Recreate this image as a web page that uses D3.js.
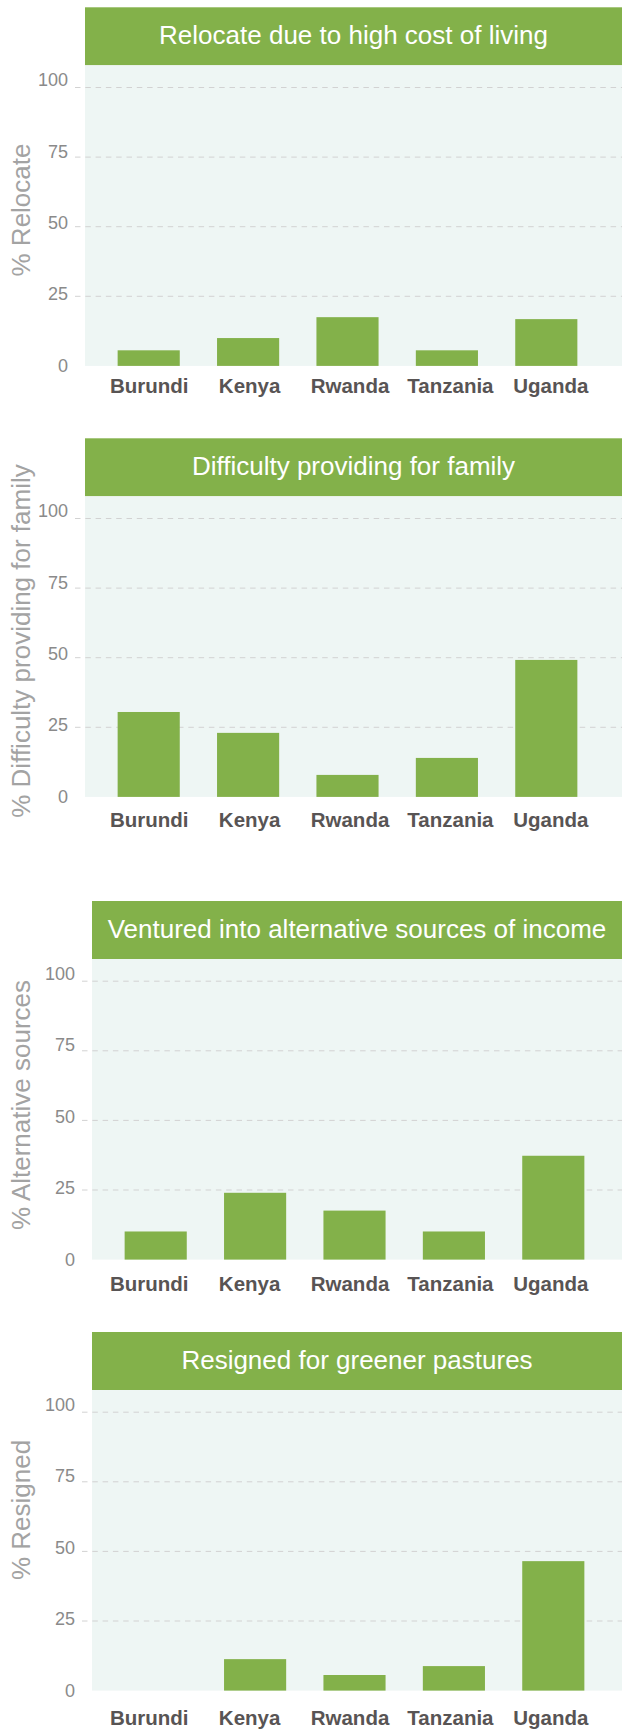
<!DOCTYPE html>
<html>
<head>
<meta charset="utf-8">
<script src="https://cdn.jsdelivr.net/npm/d3@7"></script>
<style>
  html, body { margin: 0; padding: 0; background: #ffffff; }
  svg { display: block; }
  text { font-family: "Helvetica Neue", Helvetica, "Liberation Sans", Arial, sans-serif; }
</style>
</head>
<body>
<div id="chart"></div>
<script>
// Countries shared by every panel
const categories = ["Burundi", "Kenya", "Rwanda", "Tanzania", "Uganda"];

// Panel headings and y-axis titles
const panelTitles = [
  "Relocate due to high cost of living",
  "Difficulty providing for family",
  "Ventured into alternative sources of income",
  "Resigned for greener pastures"
];
const axisTitles = [
  "% Relocate",
  "% Difficulty providing for family",
  "% Alternative sources",
  "% Resigned"
];

// Share of respondents (%) per country
const relocate    = [5.6, 10.0, 17.5, 5.6, 16.8];
const difficulty  = [30.5, 23.0, 7.9, 14.0, 49.2];
const alternative = [10.1, 24.0, 17.6, 10.1, 37.3];
const resigned    = [0, 11.3, 5.6, 8.8, 46.5];

const seriesList = [relocate, difficulty, alternative, resigned];
const yTicks = [0, 25, 50, 75, 100];

// Layout of each panel: vertical offset, horizontal nudge, label offsets
const layout = [
  { top: 7.3,  dx: 0, catDy: 27.5, titleY: 202.7 },
  { top: 438.3, dx: 0, catDy: 30,   titleY: 202.7 },
  { top: 901,  dx: 7, catDy: 31.5, titleY: 204 },
  { top: 1332, dx: 7, catDy: 34,   titleY: 178 }
];

const W = 622, H = 1729;
const GREEN = "#83b14a";
const PLOT_BG = "#eef6f4";
const headerH = 58;

const svg = d3.select("#chart").append("svg")
  .attr("width", W).attr("height", H);

const y = d3.scaleLinear().domain([0, 100]).range([358.6, 80.2]);
const yLabel = d3.scaleLinear().domain([0, 100]).range([364, 78.5]);

seriesList.forEach((values, i) => {
  const L = layout[i];
  const g = svg.append("g").attr("transform", `translate(0,${L.top})`);
  const left = 85 + L.dx;

  const x = d3.scaleBand().domain(categories)
    .range([99 + L.dx, 596 + L.dx])
    .paddingInner(0.375).paddingOuter(0.1875);
  const xLabel = x.copy().range([99, 601]);

  // header bar
  g.append("rect")
    .attr("x", left).attr("y", 0)
    .attr("width", W - left).attr("height", headerH)
    .attr("fill", GREEN);
  g.append("text")
    .attr("x", (left + W) / 2).attr("y", headerH / 2 + 8)
    .attr("text-anchor", "middle")
    .attr("fill", "#ffffff")
    .attr("font-size", 26)
    .text(panelTitles[i]);

  // plot background
  g.append("rect")
    .attr("x", left).attr("y", headerH)
    .attr("width", W - left).attr("height", y(0) - headerH)
    .attr("fill", PLOT_BG);

  // dashed gridlines
  g.append("g").selectAll("line")
    .data(yTicks.filter(t => t > 0))
    .join("line")
    .attr("x1", 75 + L.dx).attr("x2", W)
    .attr("y1", d => y(d)).attr("y2", d => y(d))
    .attr("stroke", "#d2d2d2")
    .attr("stroke-width", 1)
    .attr("stroke-dasharray", "5.5,4.8");

  // y tick labels
  const yAxis = g.append("g")
    .attr("transform", `translate(${68 + L.dx},0)`)
    .call(d3.axisLeft(yLabel).tickValues(yTicks).tickSize(0).tickPadding(0));
  yAxis.select(".domain").remove();
  yAxis.selectAll("text")
    .attr("dy", 0)
    .attr("fill", "#8a8a8a")
    .attr("font-size", 18)
    .style("font-family", "\"Helvetica Neue\", Helvetica, \"Liberation Sans\", Arial, sans-serif");

  // bars
  g.append("g").selectAll("rect")
    .data(values.map((v, k) => ({ c: categories[k], v })))
    .join("rect")
    .attr("x", d => x(d.c))
    .attr("y", d => y(d.v))
    .attr("width", x.bandwidth())
    .attr("height", d => y(0) - y(d.v))
    .attr("fill", GREEN);

  // category labels
  const xAxis = g.append("g")
    .attr("transform", `translate(0,${y(0) + L.catDy})`)
    .call(d3.axisBottom(xLabel).tickSize(0).tickPadding(0));
  xAxis.select(".domain").remove();
  xAxis.selectAll("text")
    .attr("dy", 0).attr("y", 0)
    .attr("fill", "#585454")
    .attr("font-size", 20.5)
    .attr("font-weight", "bold")
    .style("font-family", "\"Helvetica Neue\", Helvetica, \"Liberation Sans\", Arial, sans-serif");

  // y-axis title
  g.append("text")
    .attr("transform", `translate(30,${L.titleY}) rotate(-90)`)
    .attr("text-anchor", "middle")
    .attr("fill", "#a3a3a3")
    .attr("font-size", 26)
    .text(axisTitles[i]);
});
</script>
</body>
</html>
